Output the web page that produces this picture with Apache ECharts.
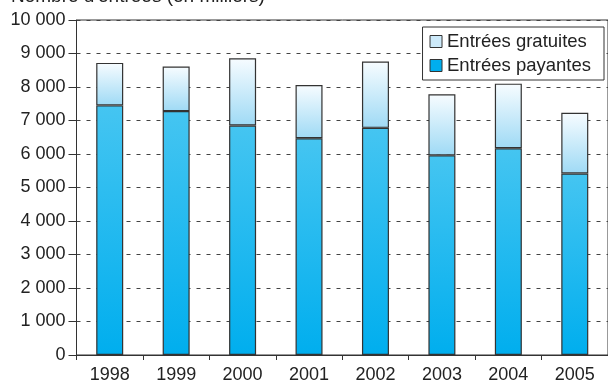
<!DOCTYPE html>
<html>
<head>
<meta charset="utf-8">
<script src="https://cdn.jsdelivr.net/npm/echarts@6/dist/echarts.min.js"></script>
<style>html,body{margin:0;padding:0;background:#fff;}#c{width:608px;height:384px;}</style>
</head>
<body>
<div id="c"></div>
<script>
const years = ['1998','1999','2000','2001','2002','2003','2004','2005'];
const payantes = [7450, 7280, 6850, 6470, 6780, 5960, 6170, 5420];
const gratuites = [1270, 1330, 2010, 1590, 1980, 1820, 1930, 1810];
const titleText = "Nombre d'entrées (en milliers)";

const chart = echarts.init(document.getElementById('c'), null, {renderer: 'canvas'});
const font = 'Liberation Sans, Arial, Helvetica, sans-serif';
const payGrad = new echarts.graphic.LinearGradient(0, 0, 0, 1, [
  {offset: 0, color: '#45c5f1'}, {offset: 1, color: '#00aeee'}
]);
const gratGrad = new echarts.graphic.LinearGradient(0, 0, 0, 1, [
  {offset: 0, color: '#f7fcff'}, {offset: 1, color: '#9fdaf5'}
]);
chart.setOption({
  animation: false,
  textStyle: {fontFamily: font},
  title: {
    text: titleText, left: 11, top: -12.5, padding: 0,
    textStyle: {fontSize: 19, fontWeight: 'normal', color: '#222', fontFamily: font}
  },
  legend: {
    orient: 'vertical', right: 4, top: 27,
    backgroundColor: '#fff', borderColor: '#333', borderWidth: 1,
    padding: [5, 13, 5, 7], itemWidth: 12, itemHeight: 12, itemGap: 5, itemTextGap: 9,
    textStyle: {fontSize: 18.5, color: '#222', fontFamily: font},
    data: [
      {name: 'Entrées gratuites', icon: 'rect', itemStyle: {color: '#cdeafa', borderColor: '#333', borderWidth: 1}},
      {name: 'Entrées payantes', icon: 'rect', itemStyle: {color: '#00aeee', borderColor: '#333', borderWidth: 1}}
    ]
  },
  grid: {left: 76.5, top: 20, width: 539, height: 336, show: true, borderColor: '#333', borderWidth: 1, backgroundColor: 'transparent'},
  xAxis: {
    type: 'category', data: years,
    axisLine: {lineStyle: {color: '#333', width: 1}},
    axisTick: {show: true, length: 5, lineStyle: {color: '#333'}},
    axisLabel: {fontSize: 18, color: '#222', margin: 11, fontFamily: font}
  },
  yAxis: {
    type: 'value', min: 0, max: 10000, interval: 1000,
    axisLine: {show: true, lineStyle: {color: '#333', width: 1}},
    axisTick: {show: true, length: 8, lineStyle: {color: '#333'}},
    axisLabel: {fontSize: 18, color: '#222', margin: 11, fontFamily: font,
      formatter: v => String(v).replace(/\B(?=(\d{3})+(?!\d))/g, ' ')},
    splitLine: {show: true, lineStyle: {color: '#444', type: [4, 6], width: 1}}
  },
  series: [
    {name: 'Entrées payantes', type: 'bar', stack: 's', data: payantes, barWidth: 27,
      itemStyle: {color: payGrad, borderColor: '#333', borderWidth: 1.2}},
    {name: 'Entrées gratuites', type: 'bar', stack: 's', data: gratuites, barWidth: 27,
      itemStyle: {color: gratGrad, borderColor: '#333', borderWidth: 1.2}}
  ]
});
</script>
</body>
</html>
